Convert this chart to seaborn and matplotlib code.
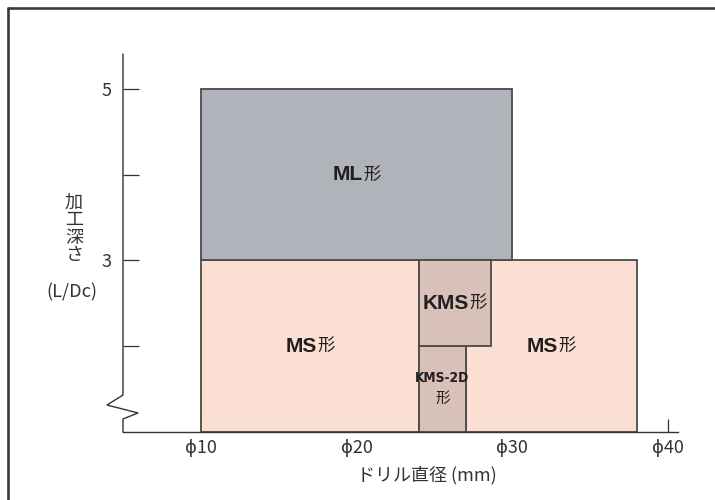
import matplotlib
matplotlib.use("Agg")
import matplotlib.pyplot as plt
import matplotlib.transforms as mtransforms
from matplotlib import font_manager
from matplotlib.lines import Line2D
import seaborn as sns

# Applicable drill-depth range of each shank type
series = ["MS", "MS", "ML", "KMS-2D", "KMS"]
dia_min = [10, 27, 10, 24, 24]
dia_max = [24, 38, 30, 27, 28.6]
depth_min = [1, 1, 3, 1, 2]
depth_max = [3, 3, 5, 2, 3]
fill = ["#fbdfd3", "#fbdfd3", "#b1b3bb", "#d8c1b9", "#d8c1b9"]

x_ticks = [10, 15, 20, 25, 30, 35, 40]
x_labels = ["ϕ10", "", "ϕ20", "", "ϕ30", "", "ϕ40"]
y_ticks = [2, 3, 4, 5]
y_labels = ["", "3", "", "5"]

sns.set_theme(style="white")
JP = ["Noto Sans CJK JP", "DejaVu Sans"]
plt.rcParams["font.family"] = JP

INK = "#231f20"
LINE = "#333333"
EDGE = "#4a4a4a"

# Condensed bold face for the narrow KMS-2D column
condensed = font_manager.FontProperties(family="DejaVu Sans", weight="bold",
                                        stretch="condensed", size=9.8)
for cand in ["Liberation Sans Narrow", "DejaVu Sans Condensed"]:
    try:
        font_manager.findfont(font_manager.FontProperties(family=cand),
                              fallback_to_default=False)
        condensed = font_manager.FontProperties(family=cand, weight="bold", size=10.5)
        break
    except Exception:
        pass

fig = plt.figure(figsize=(7.15, 5.0), dpi=100)
ax = fig.add_axes([123 / 715, 68 / 500, 555 / 715, 378 / 500])

ax.bar(dia_min,
       [t - b for t, b in zip(depth_max, depth_min)],
       width=[r - l for r, l in zip(dia_max, dia_min)],
       bottom=depth_min, align="edge", color=fill,
       edgecolor=EDGE, linewidth=1.3, zorder=2)

ax.set_xlim(4.99, 40.64)
ax.set_ylim(1, 5.408)

ax.set_xticks(x_ticks)
ax.set_xticklabels(x_labels)
ax.set_yticks(y_ticks)
ax.set_yticklabels(y_labels)
ax.tick_params(axis="x", direction="in", length=9.4, width=0.9, color=LINE,
               pad=5, labelsize=13, labelcolor=LINE)
ax.tick_params(axis="y", direction="in", length=11.5, width=0.9, color=LINE,
               pad=8, labelsize=13, labelcolor=LINE)
ax.tick_params(axis="both", which="both", bottom=True, left=True, top=False, right=False)

for side in ["top", "right", "left"]:
    ax.spines[side].set_visible(False)
ax.spines["bottom"].set_color(LINE)
ax.spines["bottom"].set_linewidth(1.0)
ax.spines["bottom"].set_zorder(3)

# Left axis with a break mark near the bottom
bx = [0, 0, -0.0288, 0.027, 0, 0]
by = [1, 0.0979, 0.0714, 0.0503, 0.0344, 0]
ax.add_line(Line2D(bx, by, transform=ax.transAxes, color=LINE, lw=1.0,
                   clip_on=False, zorder=3))

ax.set_xlabel("ドリル直径 (mm)", fontsize=13, color=LINE, labelpad=5)
ax.xaxis.set_label_coords(0.548, -0.09)
fig.text(74 / 715, 1 - 229 / 500, "加\n工\n深\nさ", ha="center", va="center",
         fontsize=13, color=LINE, linespacing=0.95)
fig.text(72 / 715, 1 - 292 / 500, "(L/Dc)", ha="center", va="center",
         fontsize=13, color=LINE)

# Region labels: bold code followed by a regular "形"
fig.canvas.draw()
renderer = fig.canvas.get_renderer()


def region_label(cx, cy, code, size):
    t1 = ax.text(cx, cy, code, ha="right", va="center", fontsize=size,
                 fontweight="bold", family=["Liberation Sans", "DejaVu Sans"],
                 color=INK, zorder=4)
    t2 = ax.text(cx, cy, "形", ha="left", va="center", fontsize=size - 2.5,
                 color=INK, zorder=4)
    w1 = t1.get_window_extent(renderer).width
    w2 = t2.get_window_extent(renderer).width
    shift = (w1 - w2) / 2 * 72 / fig.dpi
    for t in (t1, t2):
        t.set_transform(mtransforms.offset_copy(ax.transData, fig=fig,
                                                x=shift, y=0, units="points"))


label_size = {"MS": 15, "ML": 15, "KMS": 15}
for name, l, r, b, t in zip(series, dia_min, dia_max, depth_min, depth_max):
    cx, cy = (l + r) / 2, (b + t) / 2
    if name == "KMS-2D":
        ax.text(cx, cy + 0.13, name, ha="center", va="center",
                fontproperties=condensed, color=INK, zorder=4)
        ax.text(cx, cy - 0.11, "形", ha="center", va="center", fontsize=10.5,
                color=INK, zorder=4)
    else:
        region_label(cx, cy, name, label_size[name])

# Outer frame
fig.add_artist(Line2D([8 / 715, 8 / 715], [0, 1 - 8 / 500], transform=fig.transFigure,
                      color="#3a3a3a", lw=1.9))
fig.add_artist(Line2D([8 / 715, 1.0], [1 - 8 / 500, 1 - 8 / 500], transform=fig.transFigure,
                      color="#3a3a3a", lw=1.9))

fig.savefig("out.png", dpi=100, facecolor="white")
